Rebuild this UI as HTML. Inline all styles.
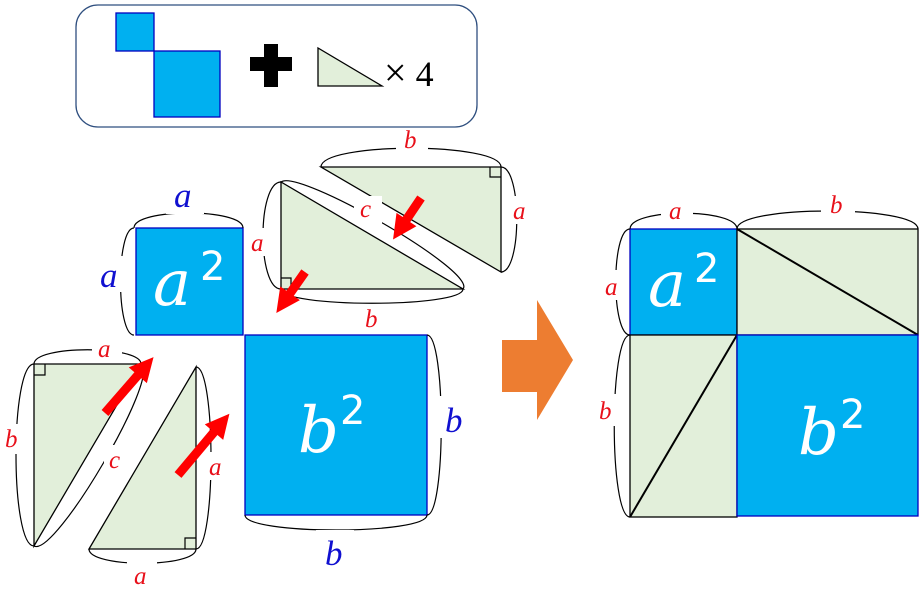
<!DOCTYPE html>
<html><head><meta charset="utf-8"><style>
html,body{margin:0;padding:0;background:#fff;}
svg{display:block;}
text{font-family:"Liberation Serif",serif;font-style:italic;}
.r{fill:#e8101a;font-size:25px;}
.b{fill:#1010d0;font-size:35px;}
.w{fill:#fff;font-size:64px;font-family:"DejaVu Serif","Liberation Serif",serif;font-style:italic;}
.w2{fill:#fff;font-size:40px;font-family:"DejaVu Sans","Liberation Sans",sans-serif;font-style:normal;}
.br{fill:none;stroke:#000;stroke-width:1.2;}
.tri{fill:#e2efda;stroke:#000;stroke-width:1.3;}
.sq{fill:#00b0f0;stroke:#0000c0;stroke-width:1.3;}
.bg{fill:#fff;}
</style></head><body>
<svg width="922" height="594" viewBox="0 0 922 594" xmlns="http://www.w3.org/2000/svg">
<!-- legend -->
<rect x="76" y="5" width="401" height="122" rx="22" fill="#fff" stroke="#2f4f7f" stroke-width="1.3"/>
<rect class="sq" x="116" y="13" width="38" height="38"/>
<rect class="sq" x="154" y="51" width="66" height="66"/>
<path d="M250,57h14v-13h14v13h14v14h-14v16h-14v-16h-14z" fill="#000"/>
<polygon class="tri" points="318,48 318,86 382,86"/>
<text x="384" y="86" style="font-style:normal;font-size:40px;font-family:'Liberation Serif',serif">×<tspan font-size="36"> 4</tspan></text>

<!-- left: squares -->
<rect class="sq" x="136" y="228" width="107" height="107"/>
<rect class="sq" x="245" y="335" width="182" height="180"/>
<text class="w" x="153" y="305">a</text><text class="w2" x="200" y="280">2</text>
<text class="w" x="298" y="452">b</text><text class="w2" x="340" y="424">2</text>

<!-- triangles -->
<polygon class="tri" points="321,167 501,167 501,272"/>
<path d="M490,167v10h11" class="br"/>
<polygon class="tri" points="281,182 281,289 463,289"/>
<path d="M281,278h10v11" class="br"/>
<polygon class="tri" points="34,364 141,364 34,546"/>
<path d="M34,375h11v-11" class="br"/>
<polygon class="tri" points="196,367 196,549 89,549"/>
<path d="M185,549v-11h11" class="br"/>

<!-- braces -->
<path class="br" d="M134,228 C134,208 243,208 243,228"/>
<path class="br" d="M134,228 C116,228 116,335 134,335"/>
<path class="br" d="M321,167 C321,142 501,142 501,167"/>
<path class="br" d="M501,167 C522,167 522,272 501,272"/>
<path class="br" d="M281,182 C298,168 478,272 463,289"/>
<path class="br" d="M281,182 C257,182 257,289 281,289"/>
<path class="br" d="M281,289 C281,308 463,308 463,289"/>
<path class="br" d="M34,364 C34,345 141,345 141,364"/>
<path class="br" d="M34,364 C10,364 10,546 34,546"/>
<path class="br" d="M141,364 C162,374 55,558 34,546"/>
<path class="br" d="M196,367 C216,367 216,549 196,549"/>
<path class="br" d="M89,549 C89,568 196,568 196,549"/>
<path class="br" d="M427,335 C446,335 446,515 427,515"/>
<path class="br" d="M245,515 C245,535 427,535 427,515"/>

<!-- labels -->
<rect class="bg" x="166" y="176" width="38" height="38"/><text class="b" x="174" y="207">a</text>
<rect class="bg" x="98" y="256" width="26" height="36"/><text class="b" x="100" y="287">a</text>
<rect class="bg" x="438" y="396" width="34" height="42"/><text class="b" x="445" y="432">b</text>
<rect class="bg" x="316" y="530" width="38" height="42"/><text class="b" x="325" y="565">b</text>
<rect class="bg" x="396" y="130" width="32" height="22"/><text class="r" x="404" y="148">b</text>
<rect class="bg" x="512" y="196" width="22" height="28"/><text class="r" x="513" y="219">a</text>
<rect class="bg" x="354" y="196" width="28" height="28"/><text class="r" x="360" y="217">c</text>
<rect class="bg" x="249" y="228" width="20" height="28"/><text class="r" x="251" y="251">a</text>
<rect class="bg" x="360" y="304" width="26" height="28"/><text class="r" x="365" y="327">b</text>
<rect class="bg" x="92" y="336" width="30" height="22"/><text class="r" x="98" y="357">a</text>
<rect class="bg" x="2" y="424" width="22" height="30"/><text class="r" x="5" y="447">b</text>
<rect class="bg" x="104" y="445" width="26" height="28"/><text class="r" x="109" y="468">c</text>
<rect class="bg" x="205" y="452" width="24" height="28"/><text class="r" x="209" y="475">a</text>
<rect class="bg" x="127" y="560" width="30" height="28"/><text class="r" x="134" y="584">a</text>

<!-- red arrows -->
<g fill="#ff0000">
<path d="M0,-4.5 L26,-4.5 L26,-12 L50,0 L26,12 L26,4.5 L0,4.5z" transform="translate(421,198) rotate(124)"/>
<path d="M0,-4.5 L26,-4.5 L26,-12 L50,0 L26,12 L26,4.5 L0,4.5z" transform="translate(305,272) rotate(125)"/>
<path d="M0,-4.5 L50,-4.5 L50,-12 L74,0 L50,12 L50,4.5 L0,4.5z" transform="translate(105,413) rotate(-49)"/>
<path d="M0,-4.5 L56,-4.5 L56,-12 L80,0 L56,12 L56,4.5 L0,4.5z" transform="translate(178,475) rotate(-50)"/>
</g>

<!-- orange arrow -->
<polygon points="502,340 537,340 537,300 573,360 537,420 537,392 502,392" fill="#ed7d31"/>

<!-- right composite -->
<rect class="sq" x="630" y="229" width="107" height="106"/>
<rect class="tri" x="737" y="229" width="181" height="106"/>
<line x1="737" y1="229" x2="918" y2="335" stroke="#000" stroke-width="2"/>
<rect class="tri" x="630" y="335" width="107" height="182"/>
<line x1="630" y1="517" x2="737" y2="335" stroke="#000" stroke-width="2"/>
<rect class="sq" x="737" y="335" width="181" height="181"/>
<text class="w" x="648" y="306">a</text><text class="w2" x="694" y="282">2</text>
<text class="w" x="798" y="454">b</text><text class="w2" x="840" y="428">2</text>
<path class="br" d="M630,229 C630,208 737,208 737,229"/>
<path class="br" d="M737,229 C737,205 918,205 918,229"/>
<path class="br" d="M630,229 C611,229 611,335 630,335"/>
<path class="br" d="M630,335 C609,335 609,517 630,517"/>
<rect class="bg" x="661" y="196" width="32" height="26"/><text class="r" x="669" y="219">a</text>
<rect class="bg" x="821" y="188" width="34" height="26"/><text class="r" x="830" y="213">b</text>
<rect class="bg" x="603" y="270" width="20" height="30"/><text class="r" x="605" y="295">a</text>
<rect class="bg" x="597" y="394" width="22" height="32"/><text class="r" x="599" y="419">b</text>
</svg>
</body></html>
